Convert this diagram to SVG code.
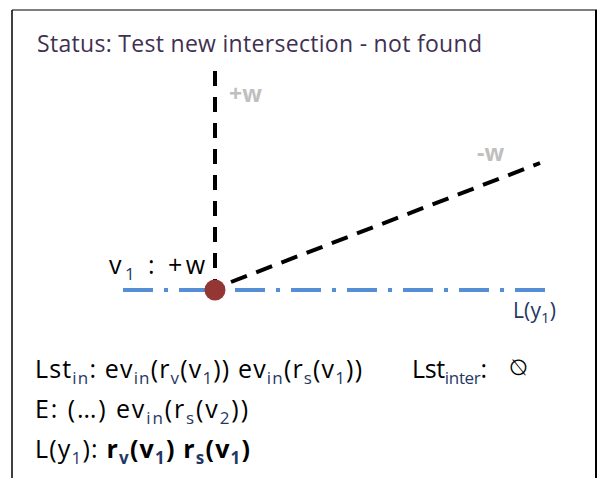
<svg xmlns="http://www.w3.org/2000/svg" width="600" height="478" viewBox="0 0 600 478">
<style>
text{font-family:"Open Sans",Lato,"Liberation Sans",sans-serif}
.t{font-size:25px;fill:#000}
.s{font-size:17px;fill:#1f3864}
.b{font-weight:bold}
.gw{font-size:23px;fill:#bfbfbf;font-weight:bold}
</style>
<rect width="600" height="478" fill="#fff"/>
<g id="frame">
<line x1="12" y1="10" x2="597" y2="10" stroke="#7f7f7f" stroke-width="2"/>
<line x1="12" y1="10" x2="12" y2="478" stroke="#000" stroke-width="1.5"/>
<line x1="596" y1="10" x2="596" y2="478" stroke="#000" stroke-width="2"/>
</g>
<text id="title" x="37" y="52" font-size="23" fill="#3f3151" textLength="445">Status: Test new intersection - not found</text>
<g id="connectors">
<line id="baseline" x1="123" y1="290" x2="545" y2="290" stroke="#558ed5" stroke-width="4" stroke-dasharray="30 11 4 11"/>
<line id="up" x1="215" y1="71" x2="215" y2="280" stroke="#000" stroke-width="4" stroke-dasharray="15 11"/>
<line id="slant" x1="231" y1="282" x2="540" y2="163" stroke="#000" stroke-width="4" stroke-dasharray="17 10"/>
</g>
<g id="v1">
<circle cx="215" cy="290" r="10.5" fill="#943634"/>
<text class="t" x="109" y="274" font-size="25" textLength="96">v<tspan class="s" dy="6">1</tspan><tspan dy="-6"> : +w</tspan></text>
</g>
<text id="plusw" class="gw" x="229" y="102">+w</text>
<text id="minusw" class="gw" x="477" y="161">-w</text>
<text id="Ly1" x="513" y="318" font-size="21" fill="#1f3864" textLength="43">L(y<tspan font-size="15" dy="5">1</tspan><tspan dy="-5">)</tspan></text>
<g id="lists">
<text class="t" x="35" y="378" textLength="327">Lst<tspan class="s" dy="6">in</tspan><tspan dy="-6">: ev</tspan><tspan class="s" dy="6">in</tspan><tspan dy="-6">(r</tspan><tspan class="s" dy="6">v</tspan><tspan dy="-6">(v</tspan><tspan class="s" dy="6">1</tspan><tspan dy="-6">)) ev</tspan><tspan class="s" dy="6">in</tspan><tspan dy="-6">(r</tspan><tspan class="s" dy="6">s</tspan><tspan dy="-6">(v</tspan><tspan class="s" dy="6">1</tspan><tspan dy="-6">))</tspan></text>
<text class="t" x="412" y="378" textLength="75">Lst<tspan class="s" dy="6">inter</tspan><tspan dy="-6">:</tspan></text>
<text x="-528" y="375" font-size="22" fill="#000" font-family="DejaVu Sans" transform="scale(-1,1)">∅</text>
<text class="t" x="35" y="418" textLength="213">E: (…) ev<tspan class="s" dy="6">in</tspan><tspan dy="-6">(r</tspan><tspan class="s" dy="6">s</tspan><tspan dy="-6">(v</tspan><tspan class="s" dy="6">2</tspan><tspan dy="-6">))</tspan></text>
<text class="t" x="35" y="458" textLength="215">L(y<tspan class="s" dy="6">1</tspan><tspan dy="-6">): </tspan><tspan class="b">r</tspan><tspan class="s b" dy="6">v</tspan><tspan class="b" dy="-6">(v</tspan><tspan class="s b" dy="6">1</tspan><tspan class="b" dy="-6">) r</tspan><tspan class="s b" dy="6">s</tspan><tspan class="b" dy="-6">(v</tspan><tspan class="s b" dy="6">1</tspan><tspan class="b" dy="-6">)</tspan></text>
</g>
</svg>
